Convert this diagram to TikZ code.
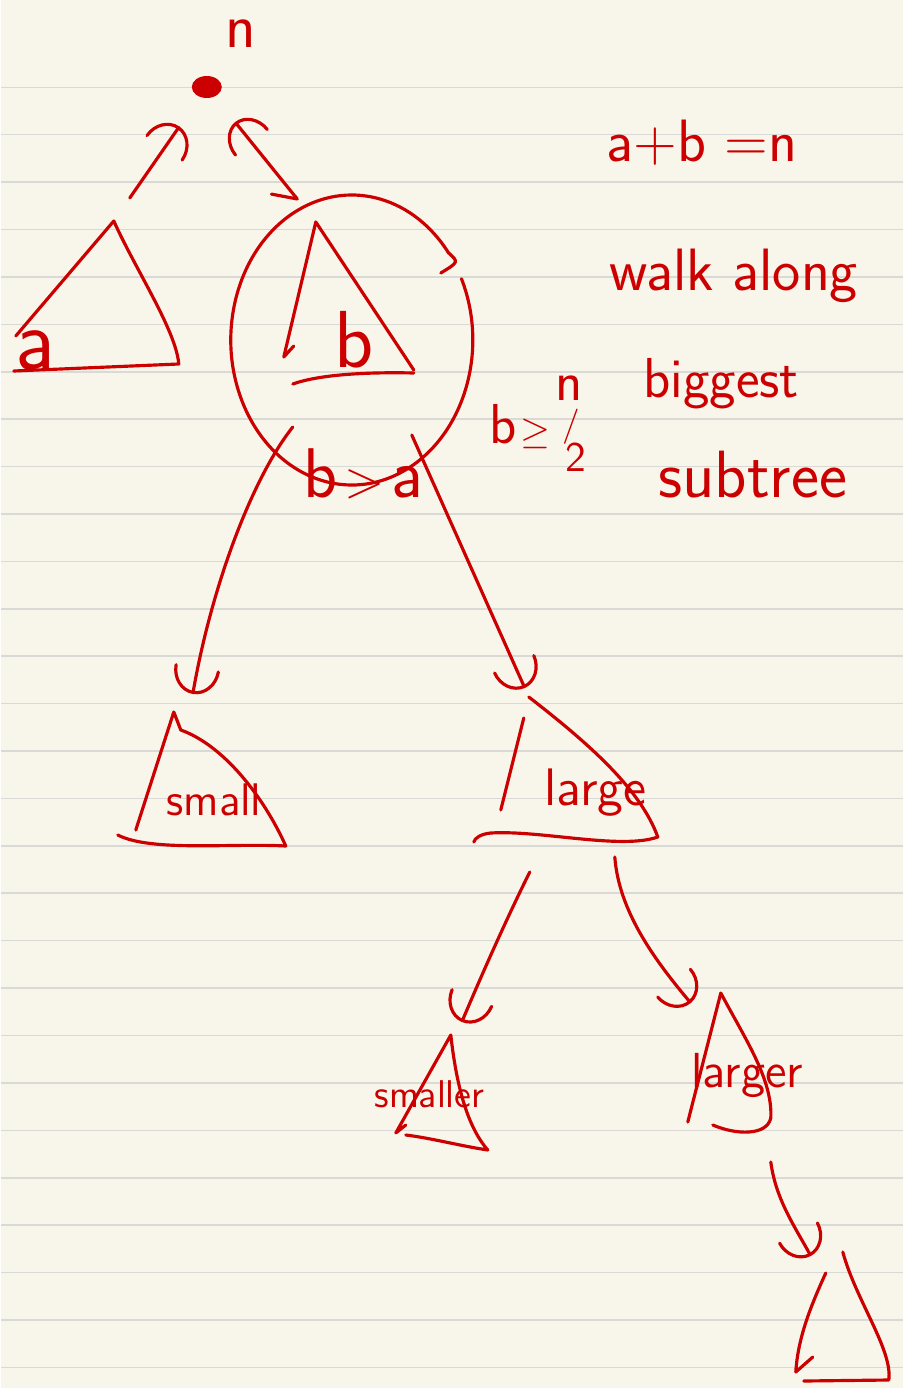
\documentclass[tikz,border=0pt]{standalone}
\usepackage{fontspec}
\usetikzlibrary{arrows.meta}
\definecolor{inkred}{HTML}{CC0000}
\definecolor{paper}{HTML}{F8F6EA}
\definecolor{ruling}{HTML}{D9D9D5}
\tikzset{
  ink/.style={draw=inkred,line width=.9pt,line cap=round,line join=round},
  cup/.style={ink,-{Arc Barb[length=2.6mm,width=4.6mm,round]}},
  fork/.style={ink,{Arc Barb[length=2.6mm,width=4.4mm,round]}-{Straight Barb[right,length=2mm,width=3.4mm,round]}},
  scrawl/.style={text=inkred,inner sep=0pt,anchor=base west,font=\sffamily\fontsize{17}{20}\selectfont},
  treelabel/.style={scrawl,font=\sffamily\fontsize{#1}{#1}\selectfont},
}

\begin{document}
\begin{tikzpicture}[x=0.01cm,y=-0.01cm]
  \fill[paper] (0,0) rectangle (902,1388);
  \foreach \k in {0,...,27}
    \draw[ruling,line width=.45pt] (0,{87.3+47.41*\k}) -- (902,{87.3+47.41*\k});
  \useasboundingbox (0,0) rectangle (902,1388);

  % root with its two subtrees a and b
  \coordinate (root) at (206,87);
  \fill[inkred] (root) ellipse [x radius=15,y radius=11];
  \node[treelabel=18] (rootsize) at (224,48) {n};

  \coordinate (ta-top) at (113,221);
  \draw[ink] (15,336) -- (ta-top) .. controls (135,270) and (175,330) .. (178,364) -- (13,371);
  \node[treelabel=25] (alabel) at (14,369) {a};

  \coordinate (tb-top) at (315,222);
  \draw[ink] (293,346) -- (283,357) -- (tb-top) -- (413,370);
  \draw[ink] (413,373) .. controls (370,372) and (320,374) .. (292,384);
  \node[treelabel=23] (blabel) at (333,367) {b};

  \coordinate (halo) at (351,340);
  \draw[ink] (halo) ++(-25:121 and 145) arc[start angle=-25,end angle=323,x radius=121,y radius=145] .. controls (458,262) .. (440,273);

  \draw[cup,shorten <=0.28cm,shorten >=0.48cm] (ta-top) -- (root);
  \draw[fork,shorten <=0.45cm,shorten >=0.28cm] (root) -- (tb-top);

  \node[scrawl] (sumnote) at (605,162) {a+b =n};
  \node[scrawl] (walknote) at (608,290) {walk along};
  \node[scrawl,font=\sffamily\fontsize{16}{18}\selectfont] (bignote) at (642,397) {biggest};
  \node[scrawl,font=\sffamily\fontsize{19}{21}\selectfont] (subnote) at (657,497) {subtree};

  \node[treelabel=16] (halfnote) at (488,443)
    {b\kern1pt{\fontsize{11}{11}\selectfont$\geq$}\kern1.5pt\raisebox{12pt}{n}\kern-5.7pt\raisebox{2pt}{\fontsize{10}{10}\selectfont/}\kern-4.3pt\raisebox{-8pt}{\fontsize{12}{12}\selectfont 2}};
  \node[treelabel=20] (cmpnote) at (302,497) {b\kern2pt{\fontsize{15}{15}\selectfont>}\kern2pt a};

  % second level
  \coordinate (b-sw) at (292,427);
  \coordinate (b-se) at (411,435);
  \coordinate (ts-top) at (173,712);
  \coordinate (ts-in) at (192,694);
  \coordinate (tl-top) at (528,697);
  \coordinate (tl-in) at (524,688);
  \draw[cup] (b-sw) .. controls (250,480) and (210,590) .. (ts-in);
  \draw[cup] (b-se) -- (tl-in);

  \draw[ink] (135,830) -- (ts-top) -- (180,730) .. controls (222,745) and (262,795) .. (285,846) .. controls (230,843) and (150,852) .. (117,835);
  \node[treelabel=13] (smalllabel) at (165,815) {small};

  \draw[ink] (523,718) -- (500,810);
  \draw[ink] (tl-top) .. controls (590,745) and (640,790) .. (657,837) .. controls (620,850) and (540,830) .. (490,833) .. controls (480,834) and (474,838) .. (473,842);
  \node[treelabel=15] (largelabel) at (543,805) {large};

  % third level
  \coordinate (tl-sw) at (529,872);
  \coordinate (tl-se) at (614,857);
  \coordinate (tm-top) at (450,1035);
  \coordinate (tm-in) at (461,1022);
  \coordinate (tg-top) at (720,993);
  \coordinate (tg-in) at (690,1003);
  \draw[cup] (tl-sw) .. controls (510,910) and (485,965) .. (tm-in);
  \draw[cup] (tl-se) .. controls (618,910) and (652,958) .. (tg-in);

  \draw[ink] (405,1125) -- (395,1133) -- (tm-top) .. controls (455,1080) and (465,1125) .. (487,1150) .. controls (460,1146) and (430,1138) .. (405,1135);
  \node[treelabel=11] (smallerlabel) at (373,1107) {smaller};

  \draw[ink] (687,1122) -- (tg-top) .. controls (745,1040) and (772,1080) .. (770,1118) .. controls (766,1136) and (735,1135) .. (712,1125);
  \node[treelabel=14] (largerlabel) at (690,1087) {larger};

  % last step
  \coordinate (tg-s) at (770,1162);
  \coordinate (te-in) at (810,1256);
  \draw[cup] (tg-s) .. controls (775,1200) and (795,1228) .. (te-in);
  \draw[ink] (825,1273) .. controls (808,1310) and (797,1340) .. (795,1372) -- (812,1357);
  \draw[ink] (842,1252) .. controls (855,1300) and (892,1350) .. (888,1380) -- (803,1381);
\end{tikzpicture}
\end{document}
